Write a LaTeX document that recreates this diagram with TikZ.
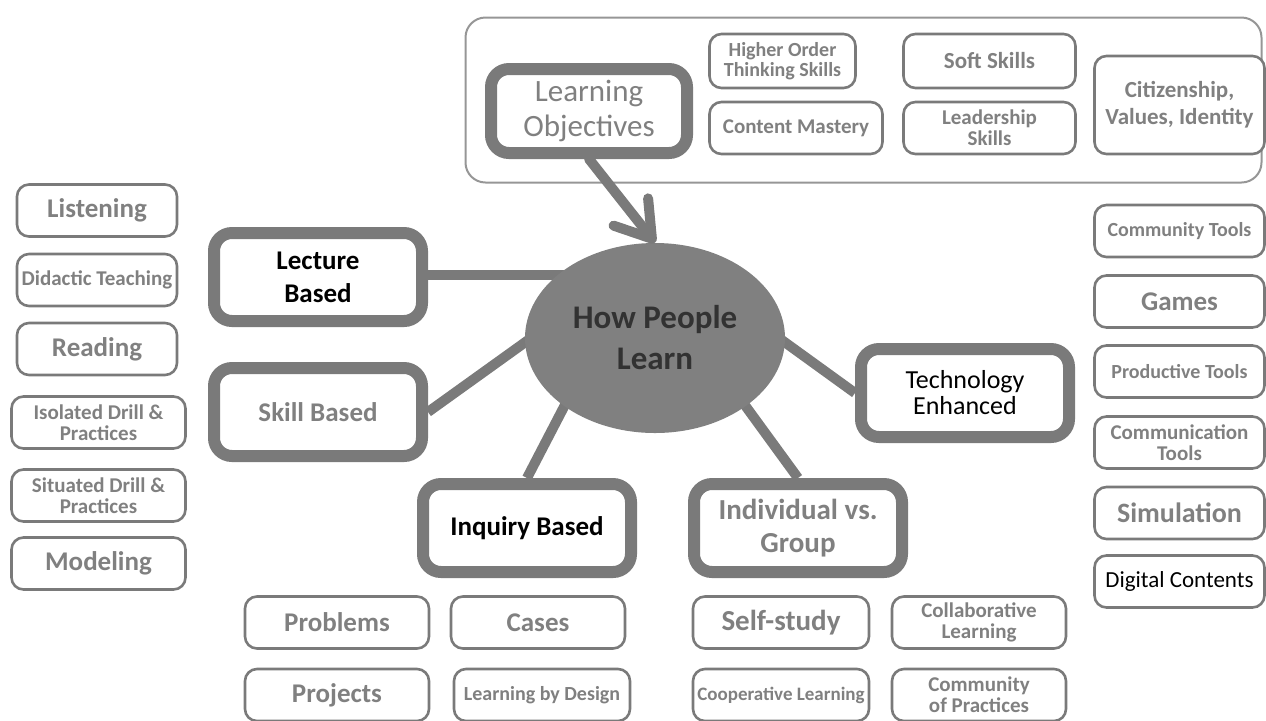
\documentclass[tikz,border=0pt]{standalone}
\usepackage{fontspec}
\setmainfont{Carlito}
\usetikzlibrary{shapes.geometric,arrows.meta,backgrounds}
\definecolor{linegray}{RGB}{122,122,122}
\definecolor{textgray}{RGB}{128,128,128}
\definecolor{framegray}{RGB}{150,150,150}
\definecolor{hubgray}{RGB}{128,128,128}
\definecolor{hubtext}{RGB}{50,50,50}
\newcommand{\fs}[1]{\fontsize{#1}{#1}\selectfont}
\begin{document}
\begin{tikzpicture}[x=0.5pt,y=-0.5pt,
    frame/.style={draw=framegray, line width=1pt, rounded corners=10pt, minimum width=398pt, minimum height=82.5pt},
    hub/.style={ellipse, fill=hubgray, minimum width=130pt, minimum height=95pt, inner sep=0pt, text=hubtext, align=center, font=\bfseries\fs{16.5}},
    branch/.style={draw=linegray, line width=6pt, rounded corners=9pt, fill=white, align=center, minimum width=104pt, minimum height=44pt, inner sep=1pt},
    leaf/.style={draw=linegray, line width=1.3pt, rounded corners=6pt, fill=white, align=center, text=textgray, inner sep=1pt, minimum height=26pt, font=\bfseries\fs{10.5}},
    big/.style={font=\bfseries\fs{13.5}},
    small/.style={font=\bfseries\fs{10}},
    link/.style={draw=linegray, line width=5pt, shorten <=-10pt},
    pointer/.style={draw=linegray, line width=5pt, line cap=round, -{Straight Barb[length=17pt,width=22pt,round]}}]
  \useasboundingbox (0,0) rectangle (1266,720);

  \node[frame] (objframe) at (863.5,100) {};
  \node[branch, text=textgray, font=\fs{15.5}, minimum width=98pt, minimum height=42pt] (lo) at (589,111) {Learning\\[2pt]Objectives};
  \node[leaf, small, minimum width=73pt, minimum height=27pt] (hots) at (782.5,61) {Higher Order\\Thinking Skills};
  \node[leaf, minimum width=86.5pt] (mastery) at (796,128) {Content Mastery};
  \node[leaf, font=\bfseries\fs{11.5}, minimum width=86pt, minimum height=27pt] (soft) at (989.5,61) {Soft Skills};
  \node[leaf, minimum width=86pt] (leader) at (989.5,128) {Leadership\\Skills};
  \node[leaf, font=\bfseries\fs{11.5}, minimum width=85pt, minimum height=49pt] (citizen) at (1179.5,105) {Citizenship,\\[2pt]Values, Identity};

  \node[hub] (hpl) at (655,338) {How People\\[4pt]Learn};

  \node[branch, big] (lecture) at (318,277) {Lecture\\[3pt]Based};
  \node[branch, big, text=textgray] (skill) at (318,412) {Skill Based};
  \node[branch, big] (inquiry) at (527,528) {Inquiry Based};
  \node[branch, big, text=textgray, font=\bfseries\fs{14.5}] (group) at (798,528) {Individual vs.\\[2pt]Group};
  \node[branch, font=\fs{13}] (tech) at (965,393) {Technology\\Enhanced};

  \node[leaf, big, minimum width=80pt] (listen) at (97,210.5) {Listening};
  \node[leaf, minimum width=80pt] (didactic) at (97,280) {Didactic Teaching};
  \node[leaf, big, minimum width=80pt] (reading) at (97,349) {Reading};
  \node[leaf, minimum width=87pt] (isolated) at (98.5,422.5) {Isolated Drill \&\\Practices};
  \node[leaf, minimum width=87pt] (situated) at (98.5,495.5) {Situated Drill \&\\Practices};
  \node[leaf, big, minimum width=87pt] (modeling) at (98.5,563.5) {Modeling};

  \node[leaf, big, minimum width=92pt] (problems) at (337,622.5) {Problems};
  \node[leaf, big, minimum width=87pt] (cases) at (538,622.5) {Cases};
  \node[leaf, big, minimum width=92pt] (projects) at (337,695) {Projects};
  \node[leaf, small, minimum width=88pt] (design) at (542,695) {Learning by Design};
  \node[leaf, big, font=\bfseries\fs{14.5}, minimum width=88pt] (selfstudy) at (781,622.5) {Self-study};
  \node[leaf, minimum width=87pt] (collab) at (979,622.5) {Collaborative\\Learning};
  \node[leaf, font=\bfseries\fs{9.5}, minimum width=88pt] (coop) at (781,695) {Cooperative Learning};
  \node[leaf, minimum width=87pt] (cop) at (979,695) {Community\\of Practices};

  \node[leaf, small, minimum width=85pt] (community) at (1179.5,231) {Community Tools};
  \node[leaf, big, minimum width=85pt] (games) at (1179.5,301.5) {Games};
  \node[leaf, small, minimum width=85pt] (productive) at (1179.5,371.5) {Productive Tools};
  \node[leaf, minimum width=85pt] (communication) at (1179.5,442.5) {Communication\\Tools};
  \node[leaf, big, font=\bfseries\fs{14}, minimum width=85pt] (simulation) at (1179.5,513) {Simulation};
  \node[leaf, text=black, font=\fs{11.5}, minimum width=85pt] (digital) at (1179.5,581.5) {Digital Contents};

  \begin{scope}[on background layer]
    \draw[link] (hpl.147) -- (hpl.147 -| lecture.east);
    \draw[link] (hpl.182) -- (skill.east);
    \draw[link] (hpl.217) -- (inquiry.north);
    \draw[link] (hpl.323) -- (group.north);
    \draw[link] (hpl.358) -- (tech.west);
  \end{scope}
  \draw[pointer] (lo.south) -- (hpl.north);
\end{tikzpicture}
\end{document}
